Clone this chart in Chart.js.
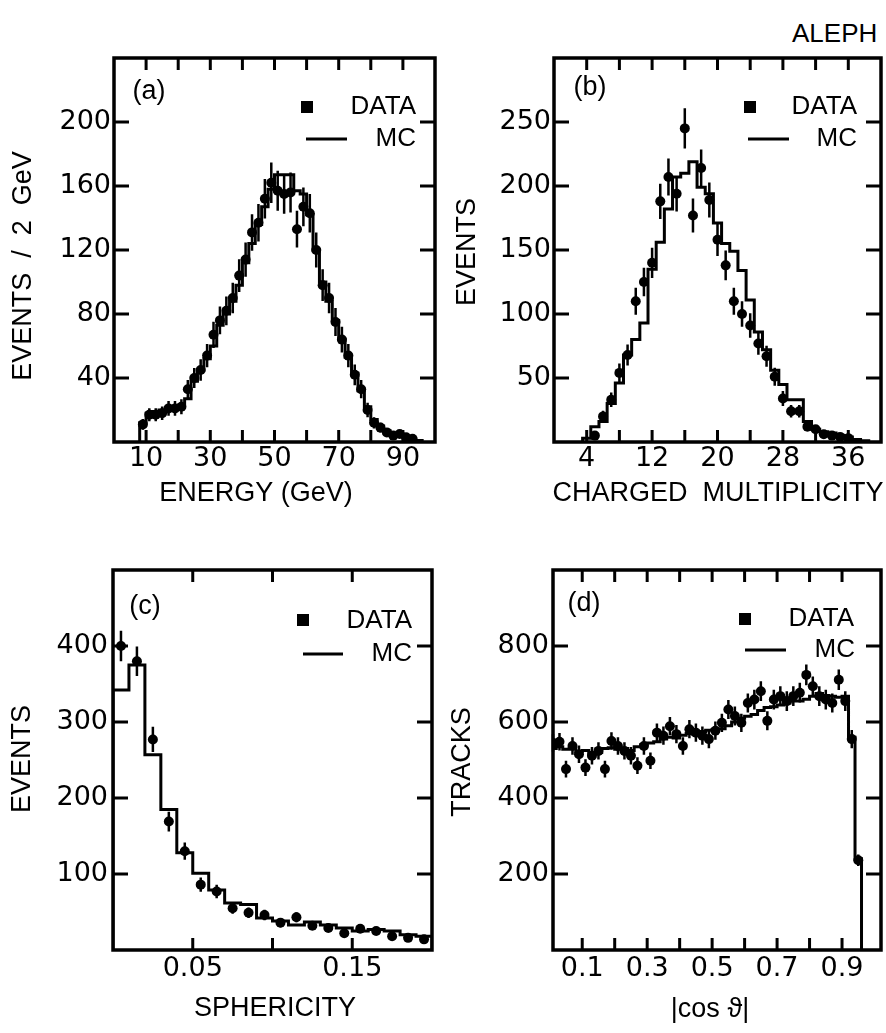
<!DOCTYPE html>
<html>
<head>
<meta charset="utf-8">
<script src="https://cdn.jsdelivr.net/npm/chart.js@4.4.1/dist/chart.umd.min.js"></script>
<style>
  html, body { margin: 0; padding: 0; background: #fff; }
  body { position: relative; width: 886px; height: 1033px; overflow: hidden; font-family: 'Liberation Sans', Arial, sans-serif; }
  canvas { position: absolute; }
  #aleph { position: absolute; left: 792px; top: 18px; font-size: 26px; line-height: 30px; color: #000; }
</style>
</head>
<body>
<div id="aleph">ALEPH</div>
<canvas id="panelA" width="445" height="540" style="left:0;top:0"></canvas>
<canvas id="panelB" width="441" height="540" style="left:445px;top:0"></canvas>
<canvas id="panelC" width="445" height="493" style="left:0;top:540px"></canvas>
<canvas id="panelD" width="441" height="493" style="left:445px;top:540px"></canvas>
<script>
// --- (a) energy, 2 GeV bins ---
const energyMcStart = 8, energyBinWidth = 2;
const energyMc = [12, 18, 19, 20, 21, 22, 23, 27, 38, 45, 52, 60, 73, 80, 88, 98, 112, 124, 136, 147,
  158, 167, 167, 167, 157, 155, 142, 120, 100, 88, 76, 64, 53, 43, 32, 22, 14, 10, 7, 5, 4, 3, 2, 1];
const energyDataStart = 9;
const energyData = [11, 17, 17, 18, 21, 21, 22, 33, 40, 45, 54, 67, 76, 82, 90, 104, 114, 131, 137, 152,
  162, 157, 155, 156, 133, 147, 143, 120, 98, 90, 75, 64, 54, 42, 33, 20, 12, 9, 6, 4, 5, 3, 2];
const energyErr = [3.3, 4.1, 4.1, 4.2, 4.6, 4.6, 4.7, 5.7, 6.3, 6.7, 7.3, 8.2, 8.7, 9, 9.5, 10.2, 10.7, 11.4, 11.7, 12.3,
  12.7, 12.5, 12.4, 12.5, 11.5, 12.1, 12, 11, 9.9, 9.5, 8.7, 8, 7.3, 6.5, 5.7, 4.5, 3.5, 3, 2.4, 2, 2.2, 1.7, 1.4];
const energyXTicks = [10, 20, 30, 40, 50, 60, 70, 80, 90];
const energyXLabels = [10, 30, 50, 70, 90];
const energyYTicks = [40, 80, 120, 160, 200];

// --- (b) charged multiplicity, unit bins ---
const multMcStart = 3.5, multBinWidth = 1;
const multMc = [3, 12, 16, 30, 46, 68, 80, 93, 135, 156, 182, 207, 210, 219, 199, 194, 171, 155, 149, 134,
  111, 86, 72, 56, 45, 33, 33, 16, 10, 8, 7, 5, 4, 2, 1];
const multDataStart = 5;
const multData = [5, 20, 33, 54, 68, 110, 125, 140, 188, 207, 194, 245, 177, 214, 189, 158, 138, 110, 100, 91,
  77, 67, 51, 34, 24, 24, 12, 10, 6, 5, 4, 3];
const multErr = [2.2, 4.5, 5.7, 7.3, 8.2, 10.5, 11.2, 11.8, 13.7, 14.4, 13.9, 15.7, 13.3, 14.6, 13.7, 12.6, 11.7, 10.5, 10, 9.5,
  8.8, 8.2, 7.1, 5.8, 4.9, 4.9, 3.5, 3.2, 2.4, 2.2, 2, 1.7];
const multXTicks = [4, 8, 12, 16, 20, 24, 28, 32, 36];
const multXLabels = [4, 12, 20, 28, 36];
const multYTicks = [50, 100, 150, 200, 250];

// --- (c) sphericity, 0.01 bins ---
const spherMcStart = 0, spherBinWidth = 0.01;
const spherMc = [342, 375, 257, 185, 128, 101, 79, 62, 60, 42, 38, 33, 37, 33, 29, 25, 27, 25, 20, 18];
const spherDataStart = 0.005;
const spherData = [400, 380, 277, 169, 130, 86, 77, 55, 49, 46, 36, 43, 32, 29, 22, 28, 25, 18, 16, 14];
const spherErr = [20, 19.5, 16.6, 13, 11.4, 9.3, 8.8, 7.4, 7, 6.8, 6, 6.6, 5.7, 5.4, 4.7, 5.3, 5, 4.2, 4, 3.7];
const spherXTicks = [0.05, 0.10, 0.15];
const spherXLabels = [0.05, 0.15];
const spherYTicks = [100, 200, 300, 400];

// --- (d) |cos theta| of tracks, 0.02 bins ---
const cosMcStart = 0, cosBinWidth = 0.02;
const cosMc = [530, 535, 528, 530, 522, 525, 515, 520, 530, 532, 528, 530, 525, 535, 540, 545, 548, 555, 560, 558,
  565, 570, 568, 575, 578, 580, 582, 590, 600, 610, 615, 620, 630, 638, 640, 645, 650, 655, 655, 660,
  668, 675, 670, 668, 665, 668, 560, 240];
const cosDataStart = 0.01;
const cosData = [545, 548, 476, 537, 515, 480, 511, 524, 476, 550, 537, 524, 511, 485, 537, 498, 572, 564, 589, 568,
  537, 581, 572, 564, 555, 577, 598, 633, 616, 598, 650, 659, 681, 603, 659, 668, 655, 668, 677, 724,
  694, 668, 659, 650, 711, 655, 555, 236];
const cosErr = [23, 23, 22, 23, 23, 22, 23, 23, 22, 23, 23, 23, 23, 22, 23, 22, 24, 24, 24, 24,
  23, 24, 24, 24, 24, 24, 24, 25, 25, 24, 25, 26, 26, 25, 26, 26, 26, 26, 26, 27,
  26, 26, 26, 25, 27, 26, 24, 15];
const cosXTicks = [0.1, 0.2, 0.3, 0.4, 0.5, 0.6, 0.7, 0.8, 0.9];
const cosXLabels = [0.1, 0.3, 0.5, 0.7, 0.9];
const cosYTicks = [200, 400, 600, 800];

const FONT = "'Liberation Sans', Arial, sans-serif";
const TICK_FONT = "'DejaVu Sans', sans-serif";
Chart.defaults.font.family = FONT;
Chart.defaults.color = '#000';

// step outline of a histogram, starting and ending on zero
function histPoints(start, width, values) {
  const pts = [{ x: start, y: 0 }];
  values.forEach((v, i) => pts.push({ x: start + i * width, y: v }));
  pts.push({ x: start + values.length * width, y: 0 });
  return pts;
}

function dataPoints(start, width, values) {
  return values.map((v, i) => ({ x: start + i * width, y: v }));
}

const errorBars = {
  id: 'errorBars',
  afterDatasetsDraw(chart) {
    const { ctx, scales: { y } } = chart;
    ctx.save();
    ctx.strokeStyle = '#000';
    ctx.lineWidth = 2.5;
    chart.data.datasets.forEach((ds, i) => {
      if (!ds.errors) return;
      const meta = chart.getDatasetMeta(i);
      ctx.beginPath();
      meta.data.forEach((pt, j) => {
        const v = ds.data[j].y, e = ds.errors[j];
        ctx.moveTo(pt.x, y.getPixelForValue(v + e));
        ctx.lineTo(pt.x, y.getPixelForValue(v - e));
      });
      ctx.stroke();
    });
    ctx.restore();
  }
};

// box around the plot and inward ticks on all four sides
const frame = {
  id: 'frame',
  afterDatasetsDraw(chart) {
    const { ctx, chartArea: a, scales: { x, y } } = chart;
    ctx.save();
    ctx.strokeStyle = '#000';
    ctx.lineWidth = 3.5;
    ctx.strokeRect(a.left, a.top, a.right - a.left, a.bottom - a.top);
    ctx.lineWidth = 3;
    ctx.beginPath();
    x.ticks.forEach(t => {
      const px = x.getPixelForValue(t.value);
      ctx.moveTo(px, a.bottom); ctx.lineTo(px, a.bottom - 12);
      ctx.moveTo(px, a.top); ctx.lineTo(px, a.top + 12);
    });
    y.ticks.forEach(t => {
      const py = y.getPixelForValue(t.value);
      ctx.moveTo(a.left, py); ctx.lineTo(a.left + 15, py);
      ctx.moveTo(a.right, py); ctx.lineTo(a.right - 15, py);
    });
    ctx.stroke();
    ctx.restore();
  }
};

const panelText = {
  id: 'panelText',
  afterDraw(chart, args, o) {
    const ctx = chart.ctx, ox = o.box[0], oy = o.box[1];
    ctx.save();
    ctx.fillStyle = '#000';
    ctx.strokeStyle = '#000';
    ctx.font = '27px ' + FONT;
    ctx.textBaseline = 'middle';
    ctx.textAlign = 'center';
    ctx.fillText(o.tag, o.tagPos[0] - ox, o.tagPos[1] - oy);
    // legend
    ctx.fillRect(o.sq[0] - ox - 6, o.sq[1] - oy - 6, 12, 12);
    ctx.lineWidth = 3;
    ctx.beginPath();
    ctx.moveTo(o.line[0] - ox, o.line[2] - oy);
    ctx.lineTo(o.line[1] - ox, o.line[2] - oy);
    ctx.stroke();
    ctx.font = '26px ' + FONT;
    ctx.textAlign = 'right';
    ctx.fillText('DATA', o.dataText[0] - ox, o.dataText[1] - oy);
    ctx.fillText('MC', o.mcText[0] - ox, o.mcText[1] - oy);
    // axis titles
    ctx.font = '27px ' + FONT;
    ctx.textAlign = 'center';
    ctx.fillText(o.xTitle, o.xTitlePos[0] - ox, o.xTitlePos[1] - oy);
    ctx.translate(o.yTitlePos[0] - ox, o.yTitlePos[1] - oy);
    ctx.rotate(-Math.PI / 2);
    ctx.fillText(o.yTitle, 0, 0);
    ctx.restore();
  }
};

function makePanel(id, p) {
  const [bx, by, bw, bh] = p.box;
  const [l, t, r, b] = p.area;
  new Chart(document.getElementById(id), {
    type: 'scatter',
    data: {
      datasets: [{
        label: 'MC',
        data: histPoints(p.mcStart, p.binWidth, p.mc),
        showLine: true,
        stepped: true,
        borderColor: '#000',
        borderWidth: 3,
        pointRadius: 0,
        fill: false
      }, {
        label: 'DATA',
        data: dataPoints(p.dataStart, p.binWidth, p.values),
        errors: p.errors,
        showLine: false,
        pointRadius: 5,
        pointBackgroundColor: '#000',
        pointBorderWidth: 0
      }]
    },
    options: {
      responsive: false,
      animation: false,
      devicePixelRatio: 1,
      layout: { padding: { left: 0, top: t - by, right: bx + bw - r, bottom: 0 } },
      plugins: { legend: { display: false }, tooltip: { enabled: false }, panelText: p },
      scales: {
        x: {
          type: 'linear', min: p.xMin, max: p.xMax,
          grid: { display: false, drawTicks: false },
          border: { display: false },
          afterBuildTicks: s => { s.ticks = p.xTicks.map(v => ({ value: v })); },
          afterFit: s => { s.height = by + bh - b; },
          ticks: {
            autoSkip: false, maxRotation: 0, padding: p.xPad, color: '#000',
            font: { family: TICK_FONT, size: 27 },
            callback: v => p.xLabels.includes(v) ? p.fmt(v) : ''
          }
        },
        y: {
          type: 'linear', min: 0, max: p.yMax,
          grid: { display: false, drawTicks: false },
          border: { display: false },
          afterBuildTicks: s => { s.ticks = p.yTicks.map(v => ({ value: v })); },
          afterFit: s => { s.width = l - bx; },
          ticks: { padding: p.yPad, color: '#000', font: { family: TICK_FONT, size: 27 } }
        }
      }
    },
    plugins: [errorBars, frame, panelText]
  });
}

makePanel('panelA', {
  box: [0, 0, 445, 540], area: [114, 58, 435, 442],
  mcStart: energyMcStart, binWidth: energyBinWidth, mc: energyMc,
  dataStart: energyDataStart, values: energyData, errors: energyErr,
  xMin: 0, xMax: 100, yMax: 240, xTicks: energyXTicks, xLabels: energyXLabels, yTicks: energyYTicks,
  fmt: v => String(v), xPad: 1, yPad: 3,
  tag: '(a)', tagPos: [149, 92], sq: [307, 107], line: [306, 347, 139],
  dataText: [416, 107], mcText: [416, 139],
  xTitle: 'ENERGY (GeV)', xTitlePos: [256, 494], yTitle: 'EVENTS  /  2  GeV', yTitlePos: [24, 266]
});

makePanel('panelB', {
  box: [445, 0, 441, 540], area: [554, 58, 882, 442],
  mcStart: multMcStart, binWidth: multBinWidth, mc: multMc,
  dataStart: multDataStart, values: multData, errors: multErr,
  xMin: 0, xMax: 40, yMax: 300, xTicks: multXTicks, xLabels: multXLabels, yTicks: multYTicks,
  fmt: v => String(v), xPad: 1, yPad: 3,
  tag: '(b)', tagPos: [590, 88], sq: [750, 107], line: [748, 789, 139],
  dataText: [857, 107], mcText: [857, 139],
  xTitle: 'CHARGED  MULTIPLICITY', xTitlePos: [718, 494], yTitle: 'EVENTS', yTitlePos: [468, 252]
});

makePanel('panelC', {
  box: [0, 540, 445, 493], area: [113, 570, 432, 950],
  mcStart: spherMcStart, binWidth: spherBinWidth, mc: spherMc,
  dataStart: spherDataStart, values: spherData, errors: spherErr,
  xMin: 0, xMax: 0.2, yMax: 500, xTicks: spherXTicks, xLabels: spherXLabels, yTicks: spherYTicks,
  fmt: v => v.toFixed(2), xPad: 3, yPad: 5,
  tag: '(c)', tagPos: [145, 607], sq: [303, 620], line: [303, 343, 654],
  dataText: [412, 621], mcText: [412, 654],
  xTitle: 'SPHERICITY', xTitlePos: [275, 1009], yTitle: 'EVENTS', yTitlePos: [23, 759]
});

makePanel('panelD', {
  box: [445, 540, 441, 493], area: [553, 570, 882, 950],
  mcStart: cosMcStart, binWidth: cosBinWidth, mc: cosMc,
  dataStart: cosDataStart, values: cosData, errors: cosErr,
  xMin: 0.01, xMax: 1.02, yMax: 1000, xTicks: cosXTicks, xLabels: cosXLabels, yTicks: cosYTicks,
  fmt: v => v.toFixed(1), xPad: 3, yPad: 4,
  tag: '(d)', tagPos: [584, 604], sq: [745, 619], line: [745, 786, 650],
  dataText: [854, 619], mcText: [855, 650],
  xTitle: '|cos \u03D1|', xTitlePos: [710, 1010], yTitle: 'TRACKS', yTitlePos: [463, 762]
});
</script>
</body>
</html>
